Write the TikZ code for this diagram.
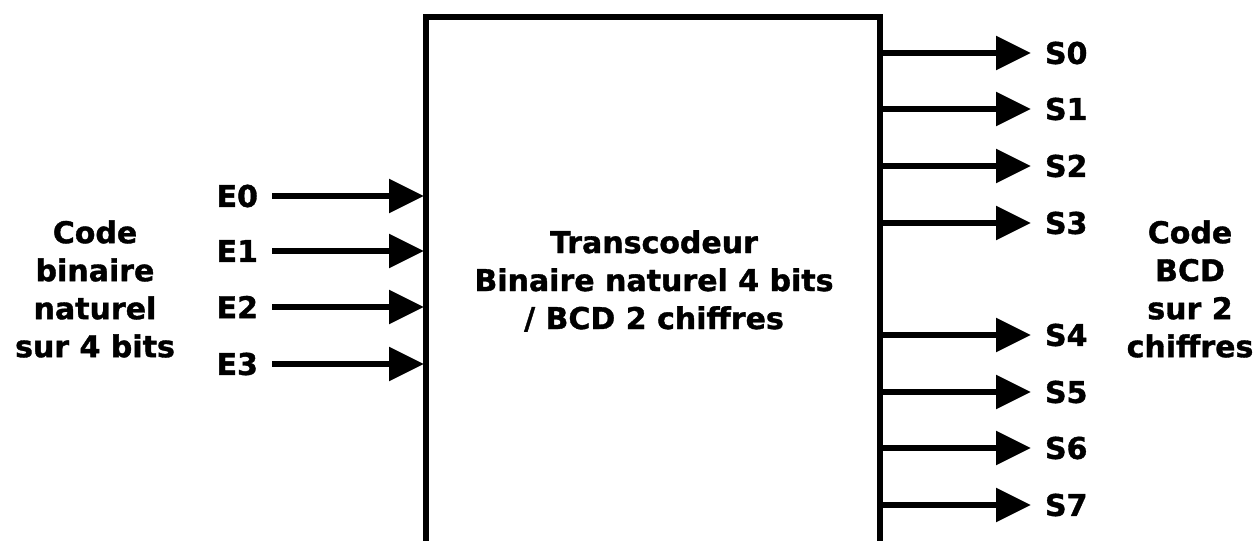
\documentclass[tikz,border=0pt]{standalone}
\usepackage{fontspec}
\setmainfont{DejaVu Sans}[BoldFeatures={FakeBold=1.2}]
\usetikzlibrary{positioning,arrows.meta}
\tikzset{
  signal/.style={line width=3pt,-{Triangle[length=17.5pt,width=16.5pt]}},
  bloc/.style={line width=3.4pt},
  pin/.style={font=\fontsize{15}{19}\selectfont\bfseries,inner sep=0pt,outer xsep=7pt},
  legende/.style={font=\fontsize{15}{19}\selectfont\bfseries,align=center,inner sep=0pt}
}
\begin{document}
\begin{tikzpicture}[x=0.5pt,y=-0.5pt]
  \useasboundingbox (0,0) rectangle (1255,541);
  % bloc ouvert en bas
  \coordinate (bg) at (426,550);
  \coordinate (hg) at (426,17);
  \coordinate (hd) at (880,17);
  \coordinate (bd) at (880,550);
  \draw[bloc] (bg) -- (hg) -- (hd) -- (bd);
  \node[legende] (titre) at (654,281) {Transcodeur\\Binaire naturel 4 bits\\/ BCD 2 chiffres};
  % entrees
  \foreach \i/\y in {0/196,1/251,2/307,3/364}{
    \node[pin,anchor=east] (E\i) at (272,\y) {E\i};
    \coordinate (e\i) at (424,\y);
    \draw[signal] (E\i) -- (e\i);
  }
  % sorties
  \foreach \i/\y in {0/53,1/109,2/166,3/223,4/335,5/392,6/448,7/505}{
    \coordinate (s\i) at (880,\y);
    \node[pin,anchor=west] (S\i) at (1031,\y) {S\i};
    \draw[signal] (s\i) -- (S\i);
  }
  \node[legende] (codeE) at (95,289) {Code\\binaire\\naturel\\sur 4 bits};
  \node[legende] (codeS) at (1190,289) {Code\\BCD\\sur 2\\chiffres};
\end{tikzpicture}
\end{document}
